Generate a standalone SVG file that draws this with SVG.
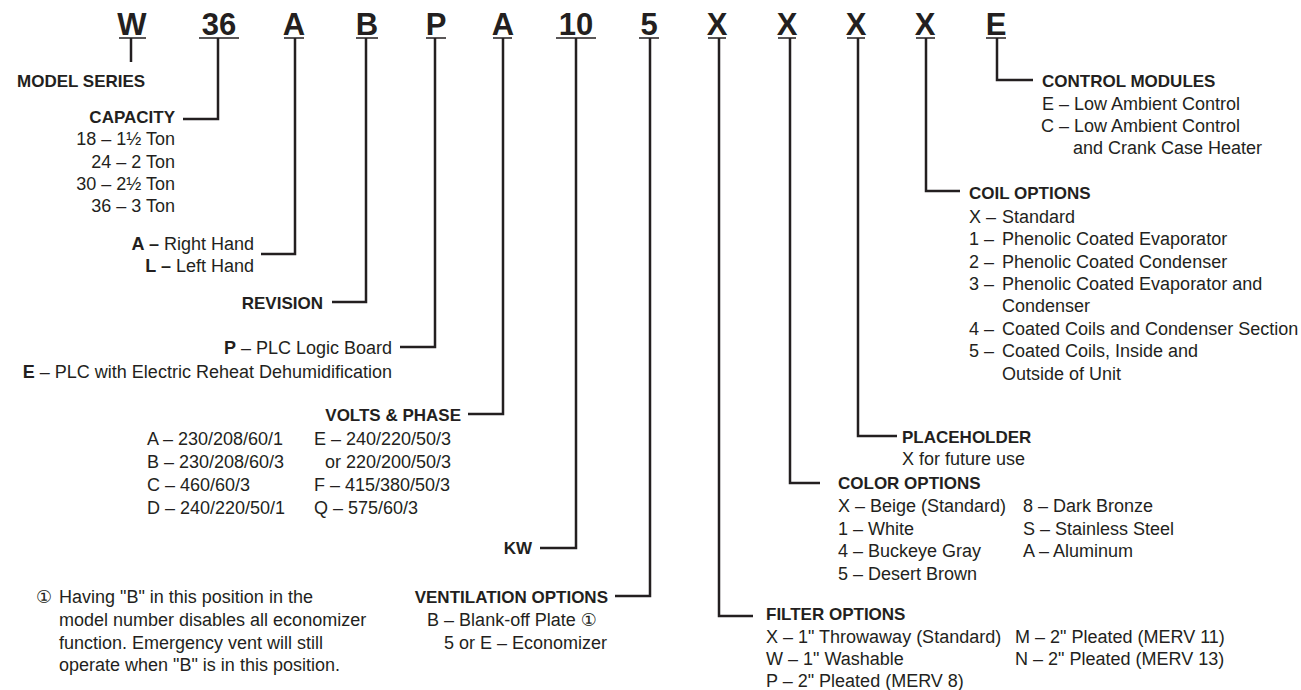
<svg xmlns="http://www.w3.org/2000/svg" width="1301" height="690" viewBox="0 0 1301 690">
<style>
text{font-family:"Liberation Sans",Arial,"DejaVu Sans",sans-serif;fill:#231f20}
.hd{font-size:31px;font-weight:bold;text-anchor:middle}
.t{font-size:18px}
.b{font-size:17px;font-weight:bold}
.e{text-anchor:end}
.bb{font-weight:bold}
.ln{stroke:#231f20;stroke-width:2.5;fill:none}
.ul{stroke:#231f20;stroke-width:1.6;fill:none}
</style>
<rect width="1301" height="690" fill="#ffffff"/>
<g id="code">
<text class="hd" x="132" y="35">W</text>
<text class="hd" x="219" y="35">36</text>
<text class="hd" x="294" y="35">A</text>
<text class="hd" x="367" y="35">B</text>
<text class="hd" x="436" y="35">P</text>
<text class="hd" x="503" y="35">A</text>
<text class="hd" x="576" y="35">10</text>
<text class="hd" x="649" y="35">5</text>
<text class="hd" x="717" y="35">X</text>
<text class="hd" x="787" y="35">X</text>
<text class="hd" x="856" y="35">X</text>
<text class="hd" x="925" y="35">X</text>
<text class="hd" x="996" y="35">E</text>
<path class="ul" d="M119 38H146M199 38H239M284 38H304M356 38H378M426 38H446M493 38H512M556 38H596M639 38H659M708 38H726M778 38H796M847 38H865M916 38H935M986 38H1006"/>
</g>
<g id="connectors">
<path class="ln" d="M131 38V62"/>
<path class="ln" d="M218 38V119H183"/>
<path class="ln" d="M295 38V254H261"/>
<path class="ln" d="M366 38V302H332"/>
<path class="ln" d="M435 38V347H400"/>
<path class="ln" d="M503 38V414H468"/>
<path class="ln" d="M576 38V548H540"/>
<path class="ln" d="M650 38V596H615"/>
<path class="ln" d="M719 38V616H753"/>
<path class="ln" d="M790 38V483H820"/>
<path class="ln" d="M858 38V436H897"/>
<path class="ln" d="M926 38V191H960"/>
<path class="ln" d="M997 38V80H1033"/>
</g>
<g id="model-series">
<text class="b" x="17" y="87">MODEL SERIES</text>
</g>
<g id="capacity">
<text class="b e" x="175" y="123">CAPACITY</text>
<text class="t e" x="175" y="145">18 – 1½ Ton</text>
<text class="t e" x="175" y="168">24 – 2 Ton</text>
<text class="t e" x="175" y="190">30 – 2½ Ton</text>
<text class="t e" x="175" y="212">36 – 3 Ton</text>
</g>
<g id="hand">
<text class="t e" x="254" y="250"><tspan class="bb">A –</tspan> Right Hand</text>
<text class="t e" x="254" y="272"><tspan class="bb">L –</tspan> Left Hand</text>
</g>
<g id="revision">
<text class="b e" x="323" y="309">REVISION</text>
</g>
<g id="logic-board">
<text class="t e" x="392" y="354"><tspan class="bb">P</tspan> – PLC Logic Board</text>
<text class="t e" x="392" y="378"><tspan class="bb">E</tspan> – PLC with Electric Reheat Dehumidification</text>
</g>
<g id="volts-phase">
<text class="b e" x="461" y="421">VOLTS &amp; PHASE</text>
<text class="t" x="147" y="445">A – 230/208/60/1</text>
<text class="t" x="147" y="468">B – 230/208/60/3</text>
<text class="t" x="147" y="491">C – 460/60/3</text>
<text class="t" x="147" y="514">D – 240/220/50/1</text>
<text class="t" x="314" y="445">E – 240/220/50/3</text>
<text class="t" x="325" y="468">or 220/200/50/3</text>
<text class="t" x="314" y="491">F – 415/380/50/3</text>
<text class="t" x="314" y="514">Q – 575/60/3</text>
</g>
<g id="kw">
<text class="b e" x="532" y="554">KW</text>
</g>
<g id="ventilation">
<text class="b e" x="608" y="603">VENTILATION OPTIONS</text>
<text class="t e" x="597" y="626">B – Blank-off Plate ①</text>
<text class="t e" x="607" y="649">5 or E – Economizer</text>
</g>
<g id="note">
<text class="t" x="36" y="603">①</text>
<text class="t" x="59" y="603">Having "B" in this position in the</text>
<text class="t" x="59" y="626">model number disables all economizer</text>
<text class="t" x="59" y="649">function. Emergency vent will still</text>
<text class="t" x="59" y="671">operate when "B" is in this position.</text>
</g>
<g id="filter">
<text class="b" x="766" y="620">FILTER OPTIONS</text>
<text class="t" x="766" y="643">X – 1" Throwaway (Standard)</text>
<text class="t" x="766" y="665">W – 1" Washable</text>
<text class="t" x="766" y="687">P – 2" Pleated (MERV 8)</text>
<text class="t" x="1015" y="643">M – 2" Pleated (MERV 11)</text>
<text class="t" x="1015" y="665">N – 2" Pleated (MERV 13)</text>
</g>
<g id="color">
<text class="b" x="838" y="489">COLOR OPTIONS</text>
<text class="t" x="838" y="512">X – Beige (Standard)</text>
<text class="t" x="838" y="535">1 – White</text>
<text class="t" x="838" y="557">4 – Buckeye Gray</text>
<text class="t" x="838" y="580">5 – Desert Brown</text>
<text class="t" x="1023" y="512">8 – Dark Bronze</text>
<text class="t" x="1023" y="535">S – Stainless Steel</text>
<text class="t" x="1023" y="557">A – Aluminum</text>
</g>
<g id="placeholder">
<text class="b" x="902" y="443">PLACEHOLDER</text>
<text class="t" x="902" y="465">X for future use</text>
</g>
<g id="coil">
<text class="b" x="969" y="199">COIL OPTIONS</text>
<text class="t" x="969" y="223">X –</text>
<text class="t" x="1002" y="223">Standard</text>
<text class="t" x="969" y="245">1 –</text>
<text class="t" x="1002" y="245">Phenolic Coated Evaporator</text>
<text class="t" x="969" y="268">2 –</text>
<text class="t" x="1002" y="268">Phenolic Coated Condenser</text>
<text class="t" x="969" y="290">3 –</text>
<text class="t" x="1002" y="290">Phenolic Coated Evaporator and</text>
<text class="t" x="1002" y="312">Condenser</text>
<text class="t" x="969" y="335">4 –</text>
<text class="t" x="1002" y="335">Coated Coils and Condenser Section</text>
<text class="t" x="969" y="357">5 –</text>
<text class="t" x="1002" y="357">Coated Coils, Inside and</text>
<text class="t" x="1002" y="380">Outside of Unit</text>
</g>
<g id="control">
<text class="b" x="1042" y="87">CONTROL MODULES</text>
<text class="t" x="1042" y="110">E – Low Ambient Control</text>
<text class="t" x="1041" y="132">C – Low Ambient Control</text>
<text class="t" x="1073" y="154">and Crank Case Heater</text>
</g>
</svg>
